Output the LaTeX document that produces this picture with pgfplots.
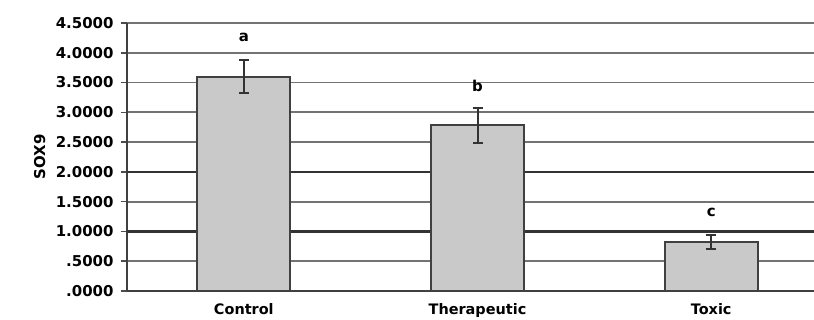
\documentclass[border=0pt]{standalone}
\usepackage{pgfplots}
\pgfplotsset{compat=1.18}
\usepackage{fontspec}
\setmainfont{DejaVu Sans}
\begin{document}
\begin{tikzpicture}
\useasboundingbox (-127bp,-29bp) rectangle (687bp,291bp);
\begin{axis}[
  at={(0,0)}, anchor=south west,
  scale only axis, width=687bp, height=268bp,
  xmin=-0.5, xmax=2.44, ymin=0, ymax=4.5,
  axis x line*=bottom, axis y line*=left,
  axis line style={black!75, line width=2.2bp},
  xtick={0,1,2}, xticklabels={Control,Therapeutic,Toxic},
  x tick label style={font=\bfseries\fontsize{14.5}{16}\selectfont, yshift=-3bp},
  extra x ticks={0.5,1.5}, extra x tick labels={},
  extra x tick style={major tick length=4bp, tick style={black!70, line width=1.5bp}, tickpos=left},
  major x tick style={draw=none},
  ytick={0,0.5,1,1.5,2,2.5,3,3.5,4,4.5},
  yticklabels={.0000,.5000,1.0000,1.5000,2.0000,2.5000,3.0000,3.5000,4.0000,4.5000},
  y tick label style={font=\bfseries\fontsize{15}{16}\selectfont, xshift=-4bp},
  ytick style={black!70, line width=1.5bp},
  tick align=outside, major tick length=6bp,
  ymajorgrids, grid style={black!55, line width=1.8bp},
  clip=false,
]
\draw[black!80, line width=2.6bp] (axis cs:-0.5,1) -- (axis cs:2.44,1);
\draw[black!80, line width=2.6bp] (axis cs:-0.5,2) -- (axis cs:2.44,2);
\addplot[ybar, bar width=93bp, fill=black!21, draw=black!75, line width=2bp,
  error bars/.cd, y dir=both, y explicit,
  error bar style={black!80, line width=2bp},
  error mark options={rotate=90, mark size=5bp, black!80, line width=2bp}]
  coordinates {(0,3.60) +- (0,0.28) (1,2.78) +- (0,0.30) (2,0.82) +- (0,0.12)};
\node[font=\bfseries\fontsize{15}{16}\selectfont] at (axis cs:0,4.26) {a};
\node[font=\bfseries\fontsize{15}{16}\selectfont] at (axis cs:1,3.44) {b};
\node[font=\bfseries\fontsize{15}{16}\selectfont] at (axis cs:2,1.32) {c};
\node[rotate=90, font=\bfseries\fontsize{15}{16}\selectfont] at (axis description cs:-0.127,0.5) {SOX9};
\end{axis}
\end{tikzpicture}
\end{document}
